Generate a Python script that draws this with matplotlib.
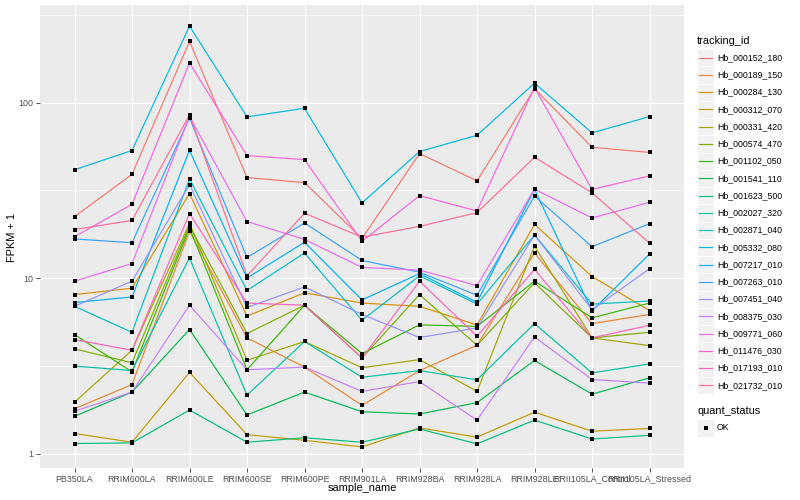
import matplotlib
matplotlib.use("Agg")
import matplotlib.pyplot as plt
import numpy as np
from matplotlib.lines import Line2D
from matplotlib.patches import Rectangle
from matplotlib.ticker import FixedLocator, NullFormatter

plt.rcParams['font.family'] = ['Liberation Sans', 'DejaVu Sans']

samples = ["PB350LA", "RRIM600LA", "RRIM600LE", "RRIM600SE", "RRIM600PE",
           "RRIM901LA", "RRIM928BA", "RRIM928LA", "RRIM928LE",
           "RRII105LA_Control", "RRII105LA_Stressed"]

tracking_ids = ["Hb_000152_180", "Hb_000189_150", "Hb_000284_130", "Hb_000312_070",
                "Hb_000331_420", "Hb_000574_470", "Hb_001102_050", "Hb_001541_110",
                "Hb_001623_500", "Hb_002027_320", "Hb_002871_040", "Hb_005332_080",
                "Hb_007217_010", "Hb_007263_010", "Hb_007451_040", "Hb_008375_030",
                "Hb_009771_060", "Hb_011476_030", "Hb_017193_010", "Hb_021732_010"]

colors = ["#F8766D", "#EA8331", "#D89000", "#C09B00", "#A3A500", "#7CAE00", "#39B600",
          "#00BB4E", "#00BF7D", "#00C1A3", "#00BFC4", "#00BAE0", "#00B0F6", "#35A2FF",
          "#9590FF", "#C77CFF", "#E76BF3", "#FA62DB", "#FF62BC", "#FF6C91"]

# FPKM + 1 per sample (order of `samples`)
hb_000152_180 = [22.4, 39.0, 223, 37.4, 35.0, 16.8, 51.2, 35.8, 120, 55.6, 52.0]
hb_000189_150 = [1.80, 2.47, 18.5, 4.56, 3.11, 1.88, 2.97, 4.14, 13.9, 5.5, 6.2]
hb_000284_130 = [8.05, 8.75, 30.3, 6.07, 8.24, 7.2, 6.9, 5.4, 20.2, 10.2, 6.53]
hb_000312_070 = [1.30, 1.16, 2.9, 1.28, 1.19, 1.09, 1.40, 1.24, 1.72, 1.34, 1.39]
hb_000331_420 = [1.96, 3.88, 20.5, 3.4, 4.35, 3.08, 3.43, 2.26, 15.2, 4.56, 4.12]
hb_000574_470 = [3.95, 3.29, 19.9, 4.83, 7.0, 3.5, 8.05, 4.14, 9.4, 4.56, 4.91]
hb_001102_050 = [4.76, 2.92, 19.3, 3.0, 7.0, 3.71, 5.41, 5.3, 9.6, 5.93, 7.2]
hb_001541_110 = [1.63, 2.24, 5.09, 1.66, 2.24, 1.73, 1.68, 1.95, 3.39, 2.18, 2.70]
hb_001623_500 = [1.14, 1.15, 1.77, 1.16, 1.23, 1.16, 1.38, 1.135, 1.55, 1.21, 1.27]
hb_002027_320 = [3.15, 2.97, 13.0, 2.15, 4.35, 2.72, 2.97, 2.63, 5.5, 2.88, 3.24]
hb_002871_040 = [6.9, 4.91, 36.7, 8.5, 13.9, 5.75, 10.3, 7.1, 17.6, 7.1, 7.4]
hb_005332_080 = [41.4, 53.3, 273, 82.9, 92.8, 26.8, 52.6, 65.1, 129, 67.2, 83.2]
hb_007217_010 = [7.25, 7.8, 53.5, 10.0, 16.0, 7.5, 10.6, 7.28, 32.0, 6.5, 13.7]
hb_007263_010 = [16.7, 15.9, 81.5, 13.1, 20.6, 12.6, 10.8, 7.98, 29.3, 15.1, 20.4]
hb_007451_040 = [6.9, 9.6, 34.1, 6.8, 8.9, 6.2, 4.58, 5.2, 17.6, 6.6, 11.3]
hb_008375_030 = [1.74, 2.24, 7.0, 3.0, 3.11, 2.26, 2.57, 1.55, 4.62, 2.64, 2.52]
hb_009771_060 = [9.6, 12.1, 83.4, 21.0, 16.6, 11.5, 11.1, 9.06, 32.1, 22.0, 27.0]
hb_011476_030 = [17.2, 26.3, 168, 49.9, 47.3, 16.2, 29.5, 24.1, 122, 32.0, 38.2]
hb_017193_010 = [4.46, 3.88, 23.3, 7.2, 7.0, 3.5, 9.6, 4.66, 11.2, 4.56, 5.38]
hb_021732_010 = [18.9, 21.3, 85.2, 10.3, 23.4, 17.1, 19.7, 23.6, 48.8, 30.6, 15.8]

series = [hb_000152_180, hb_000189_150, hb_000284_130, hb_000312_070, hb_000331_420,
          hb_000574_470, hb_001102_050, hb_001541_110, hb_001623_500, hb_002027_320,
          hb_002871_040, hb_005332_080, hb_007217_010, hb_007263_010, hb_007451_040,
          hb_008375_030, hb_009771_060, hb_011476_030, hb_017193_010, hb_021732_010]

W, H = 800, 500
fig = plt.figure(figsize=(8, 5), dpi=100)
# panel in pixels: left 40, right 684, top 5, bottom 468
ax = fig.add_axes([40 / W, 1 - 468 / H, (684 - 40) / W, (468 - 5) / H])
ax.set_facecolor("#EBEBEB")
for s in ax.spines.values():
    s.set_visible(False)

x = np.arange(len(samples))
for vals, col in zip(series, colors):
    ax.plot(x, vals, color=col, lw=0.85, solid_capstyle='butt', zorder=2)
for vals in series:
    ax.plot(x, vals, ls='none', marker='s', ms=2.9, mew=0, color='black', zorder=3)

ax.set_yscale('log')
allv = np.log10(np.concatenate([np.asarray(v, float) for v in series]))
lo, hi = allv.min(), allv.max()
pad = (hi - lo) * 0.05
ax.set_ylim(10 ** (lo - pad), 10 ** (hi + pad))
ax.set_xlim(-0.6, len(samples) - 1 + 0.6)

ax.yaxis.set_major_locator(FixedLocator([1, 10, 100]))
ax.yaxis.set_minor_locator(FixedLocator([10 ** 0.5, 10 ** 1.5, 10 ** 2.5]))
ax.yaxis.set_minor_formatter(NullFormatter())
ax.set_yticklabels(["1", "10", "100"])
ax.set_xticks(x)
ax.set_xticklabels(samples)

ax.grid(which='major', color='white', lw=0.85)
ax.grid(which='minor', axis='y', color='white', lw=0.45)
ax.set_axisbelow(True)
ax.tick_params(which='major', length=2.8, width=0.6, color='#333333',
               labelsize=6.4, labelcolor='#4D4D4D', pad=2)
ax.tick_params(which='minor', length=0)

fig.text(12 / W, 1 - 237 / H, "FPKM + 1", rotation=90, ha='center', va='center',
         fontsize=7.9, color='black')
fig.text(362 / W, 1 - 488 / H, "sample_name", ha='center', va='center',
         fontsize=7.9, color='black')


def fx(px):
    return px / W


def fy(py):
    return 1 - py / H


# legend: tracking_id
fig.text(fx(697), fy(40.5), "tracking_id", ha='left', va='center', fontsize=7.9)
key_w, key_h = 17.0, 17.25
y0 = 57.7
for i, (tid, col) in enumerate(zip(tracking_ids, colors)):
    yc = y0 + i * key_h
    fig.add_artist(Rectangle((fx(697), fy(yc + key_h / 2)), key_w / W, key_h / H,
                             transform=fig.transFigure, facecolor='#F2F2F2',
                             edgecolor='white', lw=0.6))
    fig.add_artist(Line2D([fx(698.7), fx(712.3)], [fy(yc), fy(yc)],
                          transform=fig.transFigure, color=col, lw=0.85))
    fig.text(fx(717), fy(yc), tid, ha='left', va='center', fontsize=6.3)

# legend: quant_status
fig.text(fx(697), fy(411.5), "quant_status", ha='left', va='center', fontsize=7.9)
yc = 428
fig.add_artist(Rectangle((fx(697), fy(yc + key_h / 2)), key_w / W, key_h / H,
                         transform=fig.transFigure, facecolor='#F2F2F2',
                         edgecolor='white', lw=0.6))
fig.add_artist(Line2D([fx(705.5)], [fy(yc)], transform=fig.transFigure,
                      ls='none', marker='s', ms=2.9, mew=0, color='black'))
fig.text(fx(717), fy(yc), "OK", ha='left', va='center', fontsize=6.3)

fig.savefig("out.png", dpi=100, facecolor='white')
